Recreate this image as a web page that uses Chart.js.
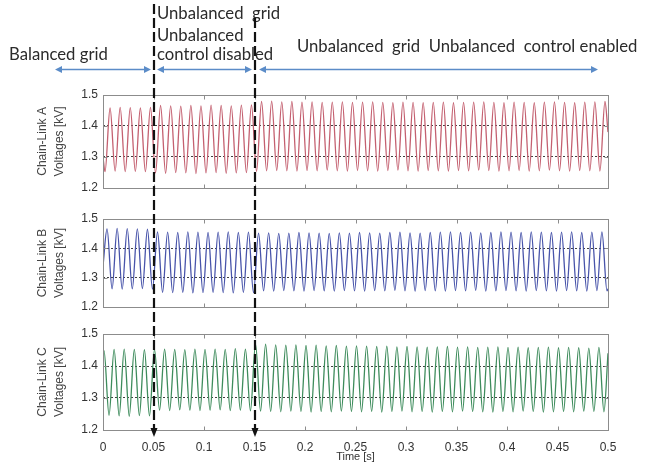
<!DOCTYPE html>
<html>
<head>
<meta charset="utf-8">
<script src="https://cdn.jsdelivr.net/npm/chart.js@4.4.1/dist/chart.umd.min.js"></script>
<style>
html, body { margin: 0; padding: 0; background: #fff; }
#wrap { position: relative; width: 649px; height: 470px; overflow: hidden; }
canvas { position: absolute; left: 0; }
#cA { top: 80px; }
#cB { top: 205px; }
#cC { top: 320px; }
#over { top: 0; pointer-events: none; }
</style>
</head>
<body>
<div id="wrap">
  <canvas id="cA" width="649" height="120"></canvas>
  <canvas id="cB" width="649" height="115"></canvas>
  <canvas id="cC" width="649" height="150"></canvas>
  <canvas id="over" width="649" height="470"></canvas>
</div>
<script>
// ripple period is 10 ms, one peak and one trough per period
const period = 0.01;
const xTickValues = [0, 0.05, 0.1, 0.15, 0.2, 0.25, 0.3, 0.35, 0.4, 0.45, 0.5];
const xTickLabels = ['0', '0.05', '0.1', '0.15', '0.2', '0.25', '0.3', '0.35', '0.4', '0.45', '0.5'];
const yTickValues = [1.2, 1.3, 1.4, 1.5];
const yTickLabels = ['1.2', '1.3', '1.4', '1.5'];
const dottedLevels = [1.3, 1.4];
const eventTimes = [0.05, 0.15];

// Chain-Link A
const aFirstPeak = 0.007, aFirstTrough = 0.002;
const aEdges = [1.30, 1.38]; // values at t=0 and t=0.5
const aPeaks = [1.458,1.460,1.459,1.458,1.460,
  1.466,1.465,1.464,1.466,1.465,1.467,1.466,1.465,1.467,1.468,
  1.479,1.480,1.478,1.479,1.477,1.478,1.476,1.477,1.478,1.476,
  1.477,1.478,1.476,1.475,1.477,1.476,1.475,1.476,1.477,1.475,
  1.476,1.477,1.478,1.476,1.475,1.477,1.476,1.475,1.477,1.478,
  1.476,1.475,1.477,1.478,1.479];
const aTroughs = [1.252,1.254,1.252,1.253,1.252,
  1.248,1.247,1.249,1.248,1.246,1.248,1.249,1.247,1.248,1.249,
  1.253,1.255,1.256,1.255,1.254,1.256,1.255,1.257,1.255,1.254,
  1.256,1.255,1.254,1.256,1.257,1.255,1.254,1.256,1.255,1.254,
  1.256,1.255,1.257,1.256,1.254,1.255,1.256,1.254,1.255,1.257,
  1.255,1.254,1.256,1.255,1.254];

// Chain-Link B
const bFirstPeak = 0.004, bFirstTrough = 0.009;
const bEdges = [1.34, 1.262];
const bPeaks = [1.466,1.468,1.467,1.466,1.465,
  1.456,1.455,1.454,1.456,1.455,1.454,1.455,1.456,1.454,1.455,
  1.452,1.453,1.451,1.452,1.454,1.453,1.452,1.451,1.453,1.452,
  1.454,1.453,1.452,1.454,1.455,1.453,1.452,1.454,1.455,1.456,
  1.454,1.455,1.453,1.454,1.456,1.455,1.454,1.456,1.455,1.454,
  1.455,1.456,1.454,1.455,1.456];
const bTroughs = [1.262,1.261,1.262,1.263,1.261,
  1.250,1.249,1.250,1.248,1.249,1.250,1.249,1.248,1.250,1.249,
  1.255,1.254,1.256,1.255,1.254,1.256,1.255,1.254,1.256,1.255,
  1.254,1.256,1.255,1.257,1.255,1.254,1.256,1.255,1.254,1.256,
  1.255,1.257,1.254,1.255,1.256,1.255,1.254,1.256,1.255,1.254,
  1.256,1.255,1.254,1.256,1.255];

// Chain-Link C
const cFirstPeak = 0.001, cFirstTrough = 0.006;
const cEdges = [1.44, 1.44];
const cPeaks = [1.448,1.452,1.453,1.452,1.451,
  1.452,1.453,1.452,1.451,1.453,1.452,1.453,1.452,1.454,1.453,
  1.469,1.468,1.466,1.465,1.466,1.464,1.465,1.463,1.464,1.462,
  1.463,1.462,1.461,1.462,1.460,1.461,1.460,1.459,1.460,1.461,
  1.459,1.460,1.458,1.459,1.460,1.458,1.459,1.457,1.458,1.459,
  1.457,1.458,1.457,1.456,1.458];
const cTroughs = [1.246,1.244,1.243,1.245,1.244,
  1.262,1.261,1.263,1.262,1.261,1.262,1.263,1.261,1.262,1.260,
  1.259,1.258,1.257,1.259,1.258,1.256,1.258,1.257,1.259,1.258,
  1.257,1.258,1.256,1.258,1.259,1.257,1.258,1.256,1.258,1.257,
  1.259,1.258,1.257,1.256,1.258,1.257,1.259,1.258,1.256,1.257,
  1.258,1.257,1.259,1.258,1.257];

const axisFont = { family: '"Liberation Sans", Arial, sans-serif', size: 12 };

function buildWave(firstPeak, firstTrough, peaks, troughs, edges) {
  const pts = [{ x: 0, y: edges[0] }];
  peaks.forEach((v, i) => pts.push({ x: firstPeak + i * period, y: v }));
  troughs.forEach((v, i) => pts.push({ x: firstTrough + i * period, y: v }));
  pts.push({ x: 0.5, y: edges[1] });
  return pts.sort((p, q) => p.x - q.x);
}

// grey box round the plot with small inside ticks, matlab style
const framePlugin = {
  id: 'frame',
  afterDatasetsDraw(chart) {
    const { ctx, chartArea: a, scales } = chart;
    const l = Math.round(a.left) + 0.5, r = Math.round(a.right) + 0.5;
    const t = Math.round(a.top) + 0.5, b = Math.round(a.bottom) + 0.5;
    ctx.save();
    ctx.strokeStyle = '#8c8c8c';
    ctx.lineWidth = 1;
    ctx.strokeRect(l, t, r - l, b - t);
    ctx.beginPath();
    xTickValues.forEach(v => {
      const px = Math.round(scales.x.getPixelForValue(v)) + 0.5;
      ctx.moveTo(px, b); ctx.lineTo(px, b - 4);
      ctx.moveTo(px, t); ctx.lineTo(px, t + 4);
    });
    yTickValues.forEach(v => {
      const py = Math.round(scales.y.getPixelForValue(v)) + 0.5;
      ctx.moveTo(l, py); ctx.lineTo(l + 4, py);
      ctx.moveTo(r, py); ctx.lineTo(r - 4, py);
    });
    ctx.stroke();
    ctx.restore();
  }
};

function makePanel(id, name, color, data, showTime, pad) {
  return new Chart(document.getElementById(id), {
    type: 'line',
    data: {
      datasets: [{
        data: data,
        borderColor: color,
        borderWidth: 1.3,
        pointRadius: 0,
        fill: false,
        cubicInterpolationMode: 'monotone'
      }]
    },
    options: {
      responsive: false,
      animation: false,
      devicePixelRatio: 1,
      layout: { padding: pad },
      plugins: { legend: { display: false }, tooltip: { enabled: false } },
      scales: {
        x: {
          type: 'linear', min: 0, max: 0.5, display: showTime,
          afterBuildTicks: s => { s.ticks = xTickValues.map(v => ({ value: v })); },
          afterFit: s => { if (showTime) s.height = 34; },
          grid: { display: false },
          border: { display: false },
          ticks: {
            callback: (v, i) => xTickLabels[i],
            autoSkip: false, maxRotation: 0, padding: 2,
            color: '#333', font: axisFont
          },
          title: {
            display: true, text: 'Time [s]', color: '#333', padding: 0,
            font: { family: axisFont.family, size: 11, lineHeight: 1.2 }
          }
        },
        y: {
          min: 1.2, max: 1.5,
          afterBuildTicks: s => { s.ticks = yTickValues.map(v => ({ value: v })); },
          afterFit: s => { s.width = 72; },
          grid: {
            drawTicks: false, lineWidth: 1,
            color: c => (c.tick && dottedLevels.includes(c.tick.value)) ? 'rgba(0,0,0,0.75)' : 'rgba(0,0,0,0)'
          },
          border: { display: false, dash: [2, 2] },
          ticks: {
            callback: (v, i) => yTickLabels[i],
            padding: 5, color: '#333', font: axisFont
          },
          title: {
            display: true, text: ['Chain-Link ' + name, 'Voltages [kV]'], color: '#444',
            padding: { top: 4, bottom: 0 },
            font: { family: axisFont.family, size: 12, lineHeight: 1.35 }
          }
        }
      }
    },
    plugins: [framePlugin]
  });
}

const panelA = makePanel('cA', 'A', 'rgb(196,96,112)',
  buildWave(aFirstPeak, aFirstTrough, aPeaks, aTroughs, aEdges), false,
  { left: 31, right: 41, top: 15, bottom: 11 });
const panelB = makePanel('cB', 'B', 'rgb(72,84,170)',
  buildWave(bFirstPeak, bFirstTrough, bPeaks, bTroughs, bEdges), false,
  { left: 31, right: 41, top: 14, bottom: 13 });
const panelC = makePanel('cC', 'C', 'rgb(62,140,92)',
  buildWave(cFirstPeak, cFirstTrough, cPeaks, cTroughs, cEdges), true,
  { left: 31, right: 41, top: 14, bottom: 6 });

// event markers and captions on top of the three panels
function drawEvents() {
  const ctx = document.getElementById('over').getContext('2d');
  const xs = eventTimes.map(t => Math.round(panelC.scales.x.getPixelForValue(t)));
  const axisY = 320 + panelC.chartArea.bottom;
  const lineTops = [4, 18];

  // blue double arrows
  const arrowY = 69.5;
  const spans = [[55, xs[0] - 3], [xs[0] + 3, xs[1] - 3], [xs[1] + 4, 598]];
  ctx.strokeStyle = '#5b8cc8';
  ctx.fillStyle = '#5b8cc8';
  ctx.lineWidth = 1.5;
  spans.forEach(([x1, x2]) => {
    ctx.beginPath();
    ctx.moveTo(x1 + 4, arrowY); ctx.lineTo(x2 - 4, arrowY);
    ctx.stroke();
    ctx.beginPath();
    ctx.moveTo(x1, arrowY); ctx.lineTo(x1 + 7, arrowY - 3.5); ctx.lineTo(x1 + 7, arrowY + 3.5); ctx.closePath();
    ctx.moveTo(x2, arrowY); ctx.lineTo(x2 - 7, arrowY - 3.5); ctx.lineTo(x2 - 7, arrowY + 3.5); ctx.closePath();
    ctx.fill();
  });

  // captions
  ctx.fillStyle = '#2b2b2b';
  ctx.font = '16.7px Lato, "Open Sans", sans-serif';
  ctx.textBaseline = 'middle';
  ctx.textAlign = 'left';
  ctx.fillText('Balanced grid', 9, 55);
  ctx.fillText('Unbalanced  grid', 157, 14);
  ctx.fillText('Unbalanced', 157, 36);
  ctx.fillText('control disabled', 157, 55);
  ctx.fillText('Unbalanced  grid  Unbalanced  control enabled', 297, 47);

  // dashed event lines with arrow heads on the time axis
  ctx.strokeStyle = '#111';
  ctx.fillStyle = '#111';
  ctx.lineWidth = 2.2;
  xs.forEach((x, i) => {
    ctx.save();
    ctx.setLineDash([10, 4]);
    ctx.beginPath();
    ctx.moveTo(x, lineTops[i]); ctx.lineTo(x, axisY - 2);
    ctx.stroke();
    ctx.restore();
    ctx.beginPath();
    ctx.moveTo(x - 3.5, axisY - 2); ctx.lineTo(x + 3.5, axisY - 2); ctx.lineTo(x, axisY + 7); ctx.closePath();
    ctx.fill();
  });
}
drawEvents();
</script>
</body>
</html>
